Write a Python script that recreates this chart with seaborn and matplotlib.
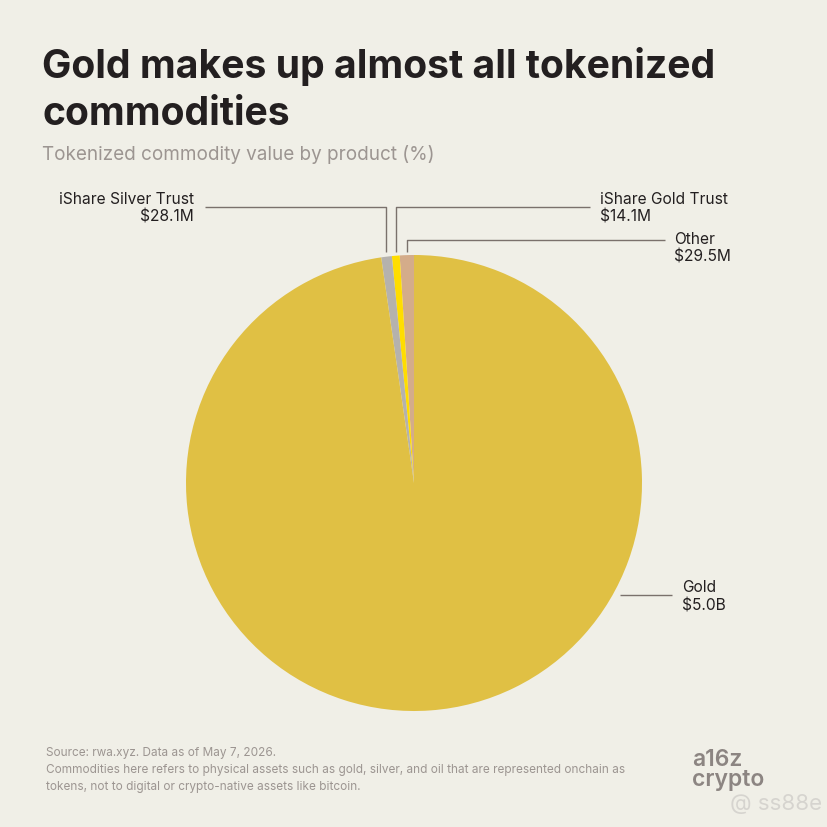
import matplotlib
matplotlib.use('Agg')
import matplotlib.pyplot as plt
import seaborn as sns
import numpy as np

# data (shares, labels from the callouts)
products = ['Other', 'iShare Gold Trust', 'iShare Silver Trust', 'Gold']
share_pct = [1.0, 0.55, 0.75, 97.7]
value_labels = ['$29.5M', '$14.1M', '$28.1M', '$5.0B']
colors = ['#D4AC8A', '#FFDD00', '#B5B2AD', '#E0C044']

BG = '#F0EFE7'
DARK = '#231F20'
MUTED = '#9C9591'
LINE = '#7A716C'

sns.set_theme(style='white')
plt.rcParams['font.family'] = ['Inter', 'DejaVu Sans']

W = H = 828
fig = plt.figure(figsize=(8.28, 8.28), dpi=100, facecolor=BG)

# pie centre (414, 484) px, radius 228 px
cx, cy, r = 414, 484, 228
ax = fig.add_axes([(cx - r) / W, (H - cy - r) / H, 2 * r / W, 2 * r / H])
ax.set_facecolor(BG)
wedges, _ = ax.pie(share_pct, colors=colors, startangle=90, counterclock=True,
                   radius=1.0, wedgeprops=dict(linewidth=0))
ax.set_xlim(-1, 1)
ax.set_ylim(-1, 1)
ax.set_aspect('equal')
ax.axis('off')


def px(x):
    return (x - cx) / r


def py(y):
    return (cy - y) / r


def mid_x(w):
    a = np.deg2rad((w.theta1 + w.theta2) / 2)
    return np.cos(a)


lab_kw = dict(fontsize=11.2, color=DARK, linespacing=1.25, clip_on=False)
line_kw = dict(color=LINE, lw=1.0, clip_on=False, solid_capstyle='butt')

# Other
x0 = mid_x(wedges[0])
ax.plot([x0, x0, px(665)], [py(253), py(241), py(241)], **line_kw)
ax.text(px(674), py(248), f'{products[0]}\n{value_labels[0]}', ha='left', va='center', **lab_kw)

# iShare Gold Trust
x1 = mid_x(wedges[1])
ax.plot([x1, x1, px(590)], [py(253), py(208), py(208)], **line_kw)
ax.text(px(600), py(208), f'{products[1]}\n{value_labels[1]}', ha='left', va='center', **lab_kw)

# iShare Silver Trust
x2 = mid_x(wedges[2])
ax.plot([x2, x2, px(205)], [py(253), py(208), py(208)], **line_kw)
ax.text(px(194), py(208), f'{products[2]}\n{value_labels[2]}', ha='right', va='center', **lab_kw)

# Gold
ax.plot([px(620), px(672)], [py(596), py(596)], **line_kw)
ax.text(px(682), py(597), f'{products[3]}\n{value_labels[3]}', ha='left', va='center', **lab_kw)

# titles
fig.text(42 / W, 1 - 78 / H, 'Gold makes up almost all tokenized', fontsize=28.2,
         fontweight='bold', color=DARK, va='baseline', ha='left')
fig.text(42 / W, 1 - 125 / H, 'commodities', fontsize=28.2,
         fontweight='bold', color=DARK, va='baseline', ha='left')
fig.text(42 / W, 1 - 160 / H, 'Tokenized commodity value by product (%)', fontsize=13.6,
         color=MUTED, va='baseline', ha='left')

# footer
foot = ['Source: rwa.xyz. Data as of May 7, 2026.',
        'Commodities here refers to physical assets such as gold, silver, and oil that are represented onchain as',
        'tokens, not to digital or crypto-native assets like bitcoin.']
for i, t in enumerate(foot):
    fig.text(46 / W, 1 - (756 + 17 * i) / H, t, fontsize=8.5, color=MUTED,
             va='baseline', ha='left')

# logo
fig.text(692 / W, 1 - 749 / H, 'a16z\ncrypto', fontsize=16.5, fontweight='semibold',
         color='#8C8582', va='top', ha='left', linespacing=0.9)
fig.text(730 / W, 1 - 810 / H, '@ ss88e', fontsize=16, color='#D6D4CF',
         va='baseline', ha='left')

fig.savefig('out.png', dpi=100, facecolor=BG)
